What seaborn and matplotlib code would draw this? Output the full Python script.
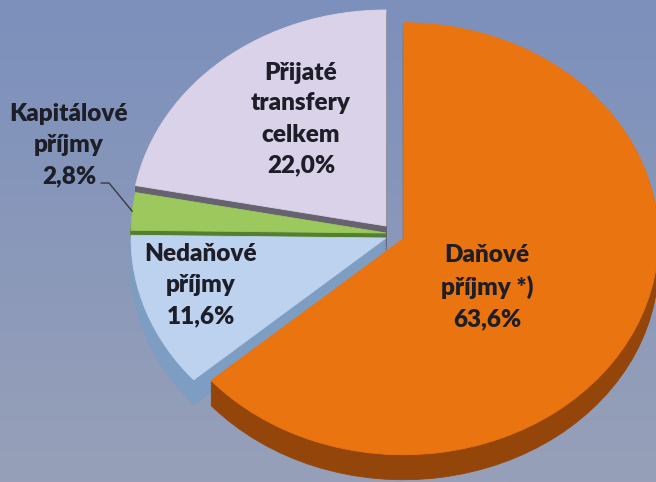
import numpy as np
import matplotlib
matplotlib.use("Agg")
import matplotlib.pyplot as plt
import seaborn as sns

# Data
categories = ["Daňové\npříjmy *)", "Nedaňové\npříjmy", "Kapitálové\npříjmy", "Přijaté\ntransfery\ncelkem"]
shares = [63.6, 11.6, 2.8, 22.0]

top_colors = ["#EA740F", "#BCD2EE", "#9CC85E", "#DAD2E8"]
side_colors = ["#94460A", "#7E9DC3", "#557F30", "#66626F"]
explode = [0.075, 0, 0, 0]
drop_px = [6, 12, 7, 0]          # small vertical drop of the slices (3d look)

# pixel layout of the reference
W, H = 656, 482
CX, CY, RX, RY = 386, 226, 255, 216
DEPTH_PX = 25


def to_data(px, py):
    return (px - CX) / RX, (CY - py) / RY


label_px = [(487, 287), (201, 285), (69, 145), (301, 119)]

sns.set_theme(style="white")
plt.rcParams["font.family"] = ["Lato", "DejaVu Sans"]

fig = plt.figure(figsize=(W / 100, H / 100), dpi=100)
ax = fig.add_axes([0, 0, 1, 1])

x0, y0 = to_data(0, H)
x1, y1 = to_data(W, 0)

# background gradient
grad = np.linspace(0, 1, 256)[:, None]
bg = matplotlib.colors.LinearSegmentedColormap.from_list("bg", ["#7C90BC", "#97A0B8"])
ax.imshow(grad, extent=[x0, x1, y0, y1], cmap=bg, aspect="auto", zorder=0)

# side of the pie: stacked darker layers
n_layers = 16
for k in range(n_layers):
    off = -DEPTH_PX / RY * (1 - k / n_layers)
    wedges, _ = ax.pie(shares, colors=side_colors, startangle=90, counterclock=False,
                       explode=explode, center=(0, off),
                       wedgeprops=dict(linewidth=0.6))
    for w, c, d in zip(wedges, side_colors, drop_px):
        cx, cy = w.center
        w.set_center((cx, cy - d / RY))
        w.set_edgecolor(c)
        w.set_zorder(2)

# top face
wedges, _ = ax.pie(shares, colors=top_colors, startangle=90, counterclock=False,
                   explode=explode, center=(0, 0),
                   wedgeprops=dict(linewidth=0.6))
for w, c, d in zip(wedges, top_colors, drop_px):
    cx, cy = w.center
    w.set_center((cx, cy - d / RY))
    w.set_edgecolor(c)
    w.set_zorder(3)

# labels
for name, val, (px, py) in zip(categories, shares, label_px):
    tx, ty = to_data(px, py)
    txt = name + "\n" + f"{val:.1f}".replace(".", ",") + "%"
    ax.text(tx, ty, txt, ha="center", va="center", fontsize=17.5, fontweight="heavy",
            color="#1E1E28", linespacing=1.5, zorder=5)

# leader line for the small slice
cum = np.cumsum([0] + shares[:-1])
mid = np.deg2rad(90 - 360 * (cum[2] + shares[2] / 2) / 100)
ex, ey = np.cos(mid), np.sin(mid) - drop_px[2] / RY
sx, sy = to_data(101, 183)
kx, ky = to_data(109, 183)
ax.plot([sx, kx, ex], [sy, ky, ey], color="#3A3A48", lw=1.0, zorder=4)

ax.set_aspect("auto")
ax.set_xlim(x0, x1)
ax.set_ylim(y0, y1)
ax.axis("off")

fig.savefig("out.png", dpi=100)
